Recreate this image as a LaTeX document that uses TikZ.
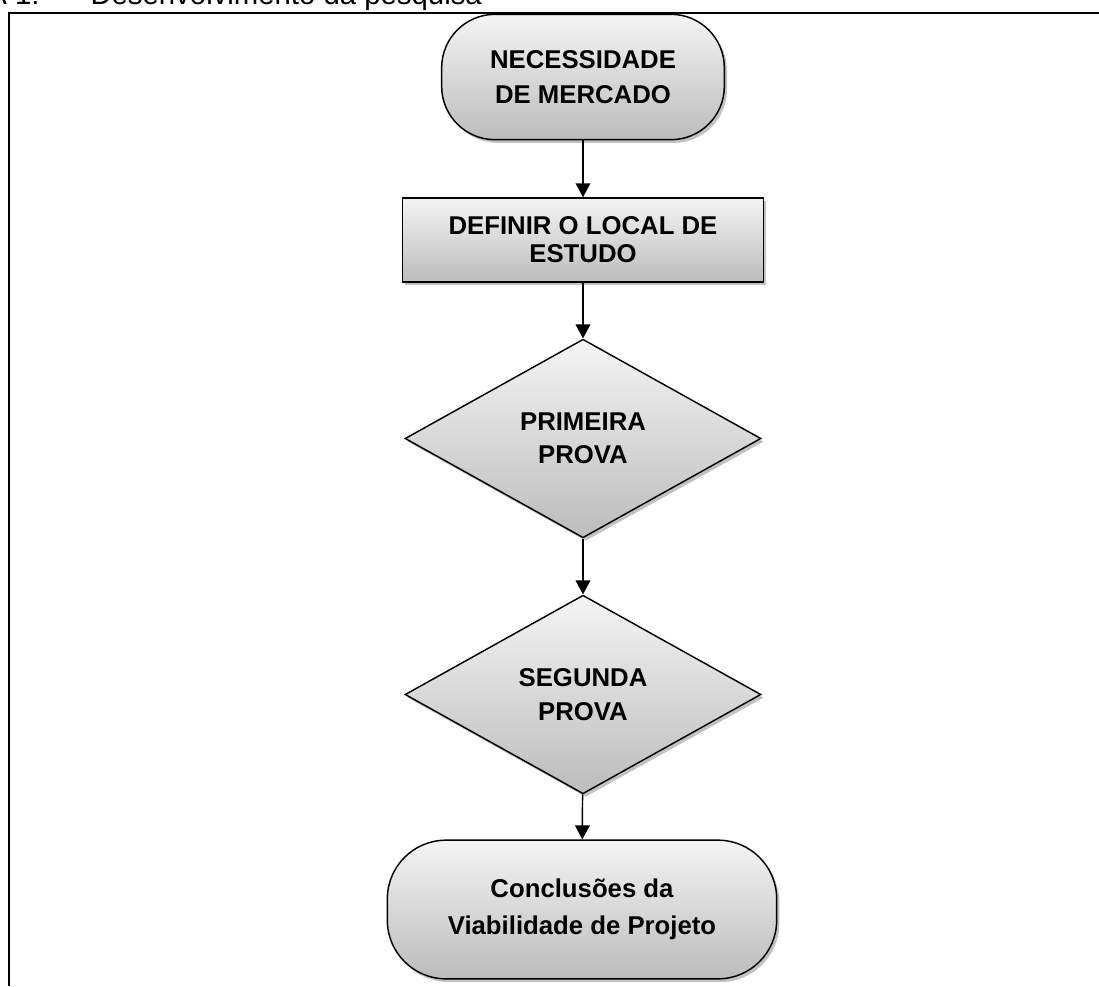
\documentclass[tikz,border=0pt]{standalone}
\usepackage{fontspec}
\setmainfont{Liberation Sans}
\usetikzlibrary{shapes.geometric,shadows,arrows.meta}

\definecolor{shadetop}{RGB}{244,244,244}
\definecolor{shadebot}{RGB}{188,188,188}

\tikzset{every picture/.style={line width=0.75pt}}
\tikzset{
  flowbox/.style={draw=black, line width=1.1pt, top color=shadetop, bottom color=shadebot,
    drop shadow={shadow xshift=2pt, shadow yshift=-2.4pt, opacity=0.4, fill=black!60},
    align=center, inner sep=0pt, font=\bfseries\fontsize{19.3}{26}\selectfont},
  terminal/.style={flowbox, rectangle, rounded corners=40pt},
  process/.style={flowbox, rectangle},
  decision/.style={flowbox, diamond},
  flowarrow/.style={line width=1.1pt, -{Triangle[length=10.5pt,width=11pt]}}
}

\begin{document}
\begin{tikzpicture}[x=0.75pt,y=0.75pt,yscale=-1,xscale=1]
  \useasboundingbox (0,0) rectangle (1099,986);

  %Frame
  \draw [line width=1.7pt] (9,986) -- (9,13) -- (1099,13) ;
  %Title (cut at the top)
  \draw (40,4.5) node [anchor=base east][inner sep=0pt] {\fontsize{22}{26}\selectfont FIGURA 1:};
  \draw (90,4.5) node [anchor=base west][inner sep=0pt] {\fontsize{22}{26}\selectfont Desenvolvimento da pesquisa};

  %Shapes
  \node [terminal, minimum width=212pt, minimum height=94pt] (mercado) at (583,77) {NECESSIDADE\\DE MERCADO};
  \node [process, minimum width=271pt, minimum height=63pt,
         font=\bfseries\fontsize{19.3}{21}\selectfont] (local) at (583,240) {DEFINIR O LOCAL DE\\ESTUDO};
  \node [decision, minimum width=267pt, minimum height=149pt,
         font=\bfseries\fontsize{19.3}{25}\selectfont] (prova1) at (583,438.5) {PRIMEIRA\\PROVA};
  \node [decision, minimum width=267pt, minimum height=149pt,
         font=\bfseries\fontsize{19.3}{25}\selectfont] (prova2) at (583,694.5) {SEGUNDA\\PROVA};
  \node [terminal, minimum width=292pt, minimum height=104pt, rounded corners=44pt,
         font=\bfseries\fontsize{19.3}{28}\selectfont] (conclusao) at (582,909.5) {Conclusões da\\Viabilidade de Projeto};

  %Connectors
  \draw [flowarrow] (mercado) -- (local) ;
  \draw [flowarrow] (local) -- (prova1) ;
  \draw [flowarrow] (prova1) -- (prova2) ;
  \draw [flowarrow] (prova2) -- (conclusao) ;

\end{tikzpicture}
\end{document}
